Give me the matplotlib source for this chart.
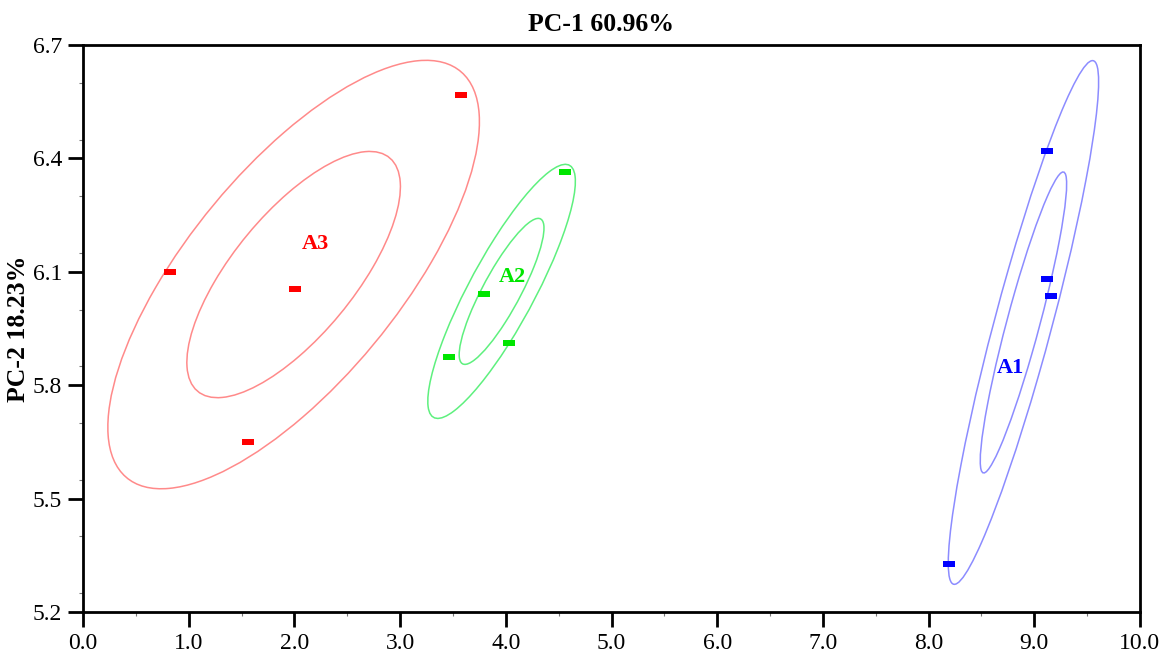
import numpy as np
import matplotlib
matplotlib.use("Agg")
import matplotlib.pyplot as plt
from matplotlib.patches import Ellipse
from matplotlib.ticker import MultipleLocator

plt.rcParams['font.family'] = ['Liberation Serif', 'DejaVu Serif']

# scores
a1_x = [9.12, 9.12, 9.16, 8.19]
a1_y = [6.420, 6.081, 6.037, 5.326]
a2_x = [4.56, 3.79, 4.03, 3.46]
a2_y = [6.365, 6.042, 5.911, 5.875]
a3_x = [0.82, 2.01, 3.58, 1.56]
a3_y = [6.099, 6.055, 6.568, 5.649]

groups = ["A1", "A2", "A3"]
label_pos = [(8.77, 5.845), (4.06, 6.087), (2.20, 6.173)]
point_colors = ["#0000ff", "#00e600", "#ff0000"]
ring_colors = ["#8c8cff", "#5ef07e", "#ff8a8a"]
n_std = [1.0, 1.74]


def conf_ellipse(x, y, ax, k, color):
    cov = np.cov(x, y, ddof=0)
    vals, vecs = np.linalg.eigh(cov)
    order = vals.argsort()[::-1]
    vals, vecs = vals[order], vecs[:, order]
    angle = np.degrees(np.arctan2(vecs[1, 0], vecs[0, 0]))
    w, h = 2 * k * np.sqrt(vals)
    e = Ellipse((np.mean(x), np.mean(y)), w, h, angle=angle,
                fill=False, edgecolor=color, lw=1.1)
    ax.add_patch(e)


fig = plt.figure(figsize=(11.63, 6.55), dpi=100)
ax = fig.add_axes([0.0714, 0.0656, 0.9088, 0.8657])

# little flat rectangle marker
rect = [(-1, -0.5), (1, -0.5), (1, 0.5), (-1, 0.5), (-1, -0.5)]

data = [(a1_x, a1_y), (a2_x, a2_y), (a3_x, a3_y)]
for i, (x, y) in enumerate(data):
    for k in n_std:
        conf_ellipse(x, y, ax, k, ring_colors[i])
    ax.plot(x, y, linestyle='none', marker=rect, markersize=8,
            color=point_colors[i], markeredgewidth=0)
    ax.text(label_pos[i][0], label_pos[i][1], groups[i], color=point_colors[i],
            fontsize=16, fontweight='bold', ha='center', va='center')

ax.set_xlim(0, 10)
ax.set_ylim(5.2, 6.7)
ax.set_xticks(np.arange(0, 10.5, 1.0))
ax.set_yticks([5.2, 5.5, 5.8, 6.1, 6.4, 6.7])
ax.xaxis.set_minor_locator(MultipleLocator(0.5))
ax.yaxis.set_minor_locator(MultipleLocator(0.15))
ax.xaxis.set_major_formatter(lambda v, p: "%.1f" % v)
ax.yaxis.set_major_formatter(lambda v, p: "%.1f" % v)
ax.tick_params(which='major', direction='out', length=11, width=2,
               labelsize=17, pad=4)
ax.tick_params(which='minor', direction='out', length=3, width=0.8,
               color='#777777')
for s in ax.spines.values():
    s.set_linewidth(2)

fig.text(0.517, 0.962, "PC-1 60.96%", fontsize=18.5, fontweight='bold',
         ha='center', va='center')
fig.text(0.0155, 0.4985, "PC-2 18.23%", rotation=90, fontsize=18.5,
         fontweight='bold', ha='center', va='center')

fig.savefig("out.png", dpi=100)
